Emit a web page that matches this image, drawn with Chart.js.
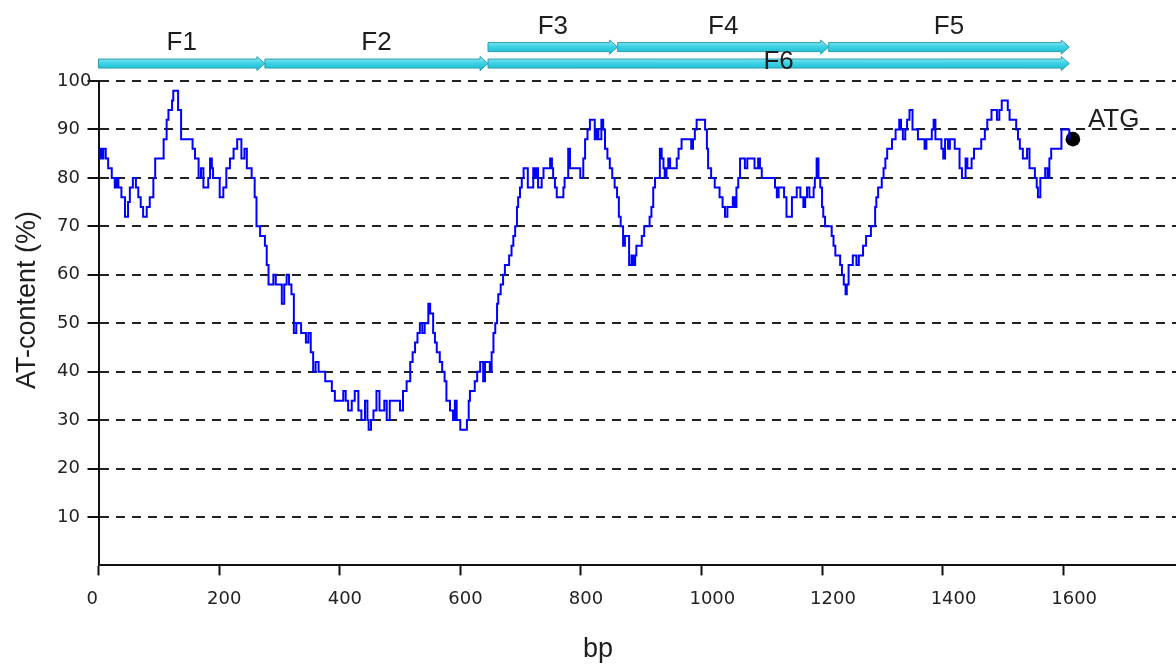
<!DOCTYPE html>
<html><head><meta charset="utf-8">
<script src="https://cdn.jsdelivr.net/npm/chart.js@4.4.1/dist/chart.umd.min.js"></script>
<style>html,body{margin:0;padding:0;background:#fff}#wrap{width:1176px;height:666px;position:relative}</style>
</head><body><div id="wrap"><canvas id="c"></canvas></div>
<script>
// ---------- data ----------
const bpPositions = [0,2,5,8,12,16,22,27,30,33,38,44,49,52,57,62,66,70,74,80,85,91,94,102,108,113,116,119,122,124,130,132,137,152,156,160,166,170,174,182,185,188,190,196,201,207,212,218,224,230,232,237,242,246,254,259,262,268,276,279,282,290,294,298,304,308,312,316,320,324,328,331,336,340,344,348,352,356,360,365,370,376,381,387,392,400,406,410,414,420,425,431,436,442,446,448,452,456,461,466,470,474,478,483,490,494,500,505,511,517,521,525,529,533,537,541,547,550,553,555,558,561,566,570,574,577,581,583,588,591,594,597,600,607,611,614,616,620,624,628,633,638,641,644,649,652,655,658,661,663,667,671,674,677,681,685,688,691,694,696,699,702,705,710,712,718,721,724,727,729,735,738,745,749,752,754,757,760,768,771,773,777,779,782,788,796,799,801,804,807,811,815,820,823,826,829,831,834,837,840,844,848,852,856,860,863,866,870,873,876,880,884,887,890,892,898,901,905,911,914,917,920,923,928,931,934,937,939,942,945,948,954,959,962,967,975,981,983,986,989,992,1000,1003,1006,1009,1011,1016,1019,1022,1025,1030,1035,1039,1043,1047,1052,1055,1058,1061,1064,1068,1072,1076,1082,1088,1094,1097,1100,1105,1114,1119,1122,1125,1128,1133,1137,1141,1147,1150,1155,1158,1161,1164,1169,1172,1175,1179,1183,1186,1188,1191,1194,1197,1200,1202,1205,1208,1213,1216,1219,1222,1227,1230,1233,1236,1239,1241,1244,1248,1251,1254,1257,1261,1264,1268,1273,1276,1281,1285,1288,1290,1293,1296,1299,1302,1305,1308,1312,1316,1319,1322,1325,1328,1331,1334,1338,1341,1345,1348,1350,1354,1359,1365,1370,1373,1379,1382,1385,1388,1394,1398,1401,1404,1409,1412,1417,1420,1425,1428,1432,1435,1438,1441,1445,1448,1452,1459,1464,1467,1470,1474,1478,1481,1487,1490,1494,1498,1504,1508,1511,1518,1522,1525,1528,1533,1536,1540,1544,1550,1553,1556,1558,1562,1566,1570,1574,1577,1580,1594,1597,1605,1610];
const atContent = [84,86,84,86,84,82,80,78,80,78,76,72,75,78,80,78,76,74,72,74,76,80,84,84,88,92,94,94,96,98,98,94,88,88,86,84,80,82,78,80,84,82,80,80,76,78,82,84,86,88,88,84,86,82,80,76,70,68,66,62,58,60,58,58,54,58,60,58,56,48,50,50,48,48,46,48,44,40,42,40,40,38,38,36,34,34,36,34,32,34,36,32,30,34,30,28,30,32,36,32,32,34,30,34,34,34,32,36,38,42,44,46,48,50,48,50,54,52,52,48,46,44,42,40,38,34,34,32,30,34,30,30,28,28,30,34,36,36,38,40,42,38,42,42,40,44,48,50,54,56,58,60,62,62,64,66,68,70,74,76,78,80,82,82,78,78,82,80,82,78,80,82,82,84,82,80,78,76,76,78,80,80,86,82,82,82,80,80,84,88,90,92,92,88,90,88,88,92,90,86,84,82,80,78,76,72,70,66,68,68,62,64,62,64,66,66,68,70,70,72,74,78,80,80,86,84,82,80,82,84,82,82,84,86,88,88,88,86,88,90,92,92,92,90,86,82,80,80,78,78,76,74,72,74,74,76,74,78,80,84,84,82,84,84,82,84,82,80,80,80,80,78,76,78,78,76,72,72,76,76,78,78,76,74,76,78,76,76,78,80,84,80,78,74,72,70,70,70,68,66,64,64,62,60,58,56,58,62,62,64,64,62,64,64,66,68,68,70,70,74,76,78,78,80,82,84,86,86,88,88,90,90,92,90,88,90,92,94,94,90,90,88,88,86,88,88,90,92,88,88,86,84,88,86,88,88,86,86,82,80,80,84,82,82,84,86,86,88,88,90,92,92,94,94,92,94,96,96,94,92,92,90,88,86,84,84,86,82,82,80,78,76,80,80,82,80,84,86,86,90,90,88];
const xTickValues = [0,200,400,600,800,1000,1200,1400,1600];
const yTickValues = [10,20,30,40,50,60,70,80,90,100];
const fragmentNames = ['F1','F2','F3','F4','F5','F6'];
const fragmentStart = [0,276,646,861,1211,646];
const fragmentEnd   = [276,646,861,1211,1610,1610];
const fragmentRow   = [0,0,1,1,1,0];
const atgName = 'ATG';
const atgBp = [1616];
const atgValue = [88];
const xTitle = 'bp';
const yTitle = 'AT-content (%)';

// ---------- styling constants ----------
const ROW_LEVEL = [103.6, 107.0];          // value level of arrow rows (above the 100 line)
const LABEL_DY = [-14,-14,-13,-13,-13,5];  // label baseline offset from arrow centre
const TICK_FONT = {family:'DejaVu Sans', size:18};
const TEXT_FONT = '26px "Liberation Sans", Arial, sans-serif';
const TITLE_FONT = '27px "Liberation Sans", Arial, sans-serif';

function drawArrow(ctx, x0, x1, yc) {
  const head = 8, bh = 4.5, hh = 7;
  const g = ctx.createLinearGradient(0, yc - hh, 0, yc + hh);
  g.addColorStop(0, '#a9eef6');
  g.addColorStop(0.45, '#3fd3e6');
  g.addColorStop(1, '#18b9cf');
  ctx.beginPath();
  ctx.moveTo(x0, yc - bh);
  ctx.lineTo(x1 - head, yc - bh);
  ctx.lineTo(x1 - head, yc - hh);
  ctx.lineTo(x1, yc);
  ctx.lineTo(x1 - head, yc + hh);
  ctx.lineTo(x1 - head, yc + bh);
  ctx.lineTo(x0, yc + bh);
  ctx.closePath();
  ctx.fillStyle = g;
  ctx.fill();
  ctx.lineWidth = 1;
  ctx.strokeStyle = '#2b9fb1';
  ctx.stroke();
}

const overlay = {
  id: 'overlay',
  afterDraw(chart) {
    const {ctx, scales: {x, y}} = chart;
    ctx.save();
    fragmentNames.forEach((n, i) => {
      drawArrow(ctx, x.getPixelForValue(fragmentStart[i]), x.getPixelForValue(fragmentEnd[i]),
                y.getPixelForValue(ROW_LEVEL[fragmentRow[i]]));
    });
    ctx.font = TEXT_FONT;
    ctx.fillStyle = '#1e1e1e';
    ctx.textAlign = 'center';
    ctx.textBaseline = 'alphabetic';
    fragmentNames.forEach((n, i) => {
      const cx = x.getPixelForValue((fragmentStart[i] + fragmentEnd[i]) / 2);
      const cy = y.getPixelForValue(ROW_LEVEL[fragmentRow[i]]);
      ctx.fillText(n, cx, cy + LABEL_DY[i]);
    });
    ctx.textAlign = 'left';
    ctx.fillText(atgName, x.getPixelForValue(atgBp[0]) + 15, y.getPixelForValue(atgValue[0]) - 12);
    ctx.font = TITLE_FONT;
    ctx.textAlign = 'center';
    ctx.textBaseline = 'middle';
    ctx.fillText(xTitle, 598, 650);
    ctx.translate(28, 300);
    ctx.rotate(-Math.PI / 2);
    ctx.fillText(yTitle, 0, 0);
    ctx.restore();
  }
};

new Chart(document.getElementById('c'), {
  type: 'line',
  data: {
    datasets: [
      {
        data: bpPositions.map((b, i) => ({x: b, y: atContent[i]})),
        borderColor: '#0000ff',
        borderWidth: 2,
        pointRadius: 0,
        stepped: true,
        fill: false
      },
      {
        type: 'scatter',
        data: atgBp.map((b, i) => ({x: b, y: atgValue[i]})),
        pointRadius: 7.3,
        pointBackgroundColor: '#000',
        pointBorderColor: '#000',
        borderWidth: 0,
        showLine: false
      }
    ]
  },
  options: {
    responsive: true,
    maintainAspectRatio: false,
    devicePixelRatio: 1,
    animation: false,
    layout: {autoPadding: false, padding: {left: 57, top: 81, right: 0, bottom: 43}},
    plugins: {legend: {display: false}, tooltip: {enabled: false}},
    scales: {
      x: {
        type: 'linear',
        min: 0,
        max: 1787,
        afterBuildTicks: s => { s.ticks = xTickValues.map(v => ({value: v})); },
        afterFit: s => { s.paddingRight = 0; s.paddingLeft = 0; },
        ticks: {
          align: 'start', labelOffset: -12, padding: 13, maxRotation: 0, autoSkip: false,
          includeBounds: false, font: TICK_FONT, color: '#222', callback: v => String(v)
        },
        grid: {drawOnChartArea: false, drawTicks: true, tickLength: 10, tickColor: '#111', tickWidth: 2},
        border: {display: true, color: '#111', width: 2}
      },
      y: {
        type: 'linear',
        min: 0,
        max: 100,
        afterBuildTicks: s => { s.ticks = yTickValues.map(v => ({value: v})); },
        afterFit: s => { s.width = 41.5; },
        ticks: {crossAlign: 'far', font: TICK_FONT, color: '#222', autoSkip: false, callback: v => String(v)},
        grid: {color: '#222', lineWidth: 2, drawTicks: true, tickLength: 11, tickColor: '#111',
               tickWidth: 2, tickBorderDash: []},
        border: {display: true, color: '#111', width: 2, dash: [9, 7]}
      }
    }
  },
  plugins: [overlay]
});
</script>
</body></html>
